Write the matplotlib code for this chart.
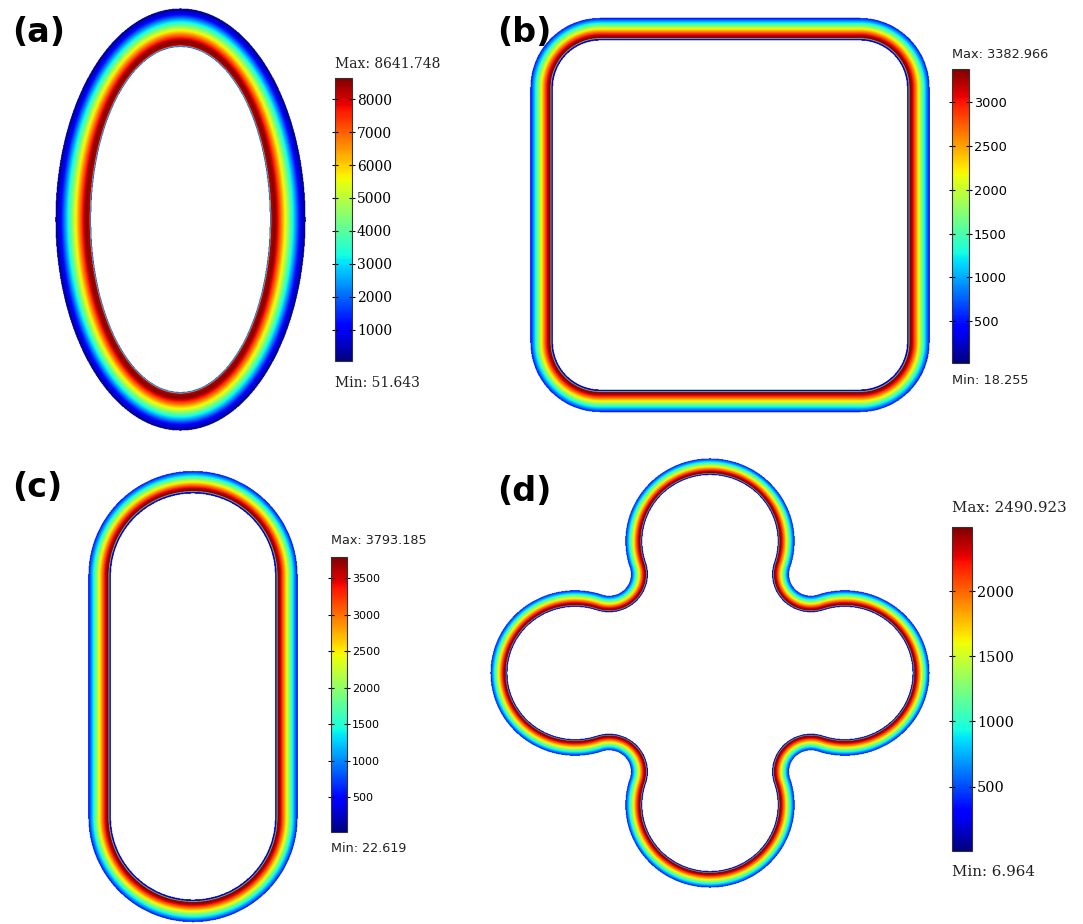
import numpy as np
import matplotlib
matplotlib.use("Agg")
import matplotlib.pyplot as plt
from matplotlib.colors import Normalize
from matplotlib.cm import ScalarMappable

# ---------------- data ----------------
panel_labels = ["(a)", "(b)", "(c)", "(d)"]
vmin_a, vmax_a = 51.643, 8641.748
vmin_b, vmax_b = 18.255, 3382.966
vmin_c, vmax_c = 22.619, 3793.185
vmin_d, vmax_d = 6.964, 2490.923
ticks_a = [1000, 2000, 3000, 4000, 5000, 6000, 7000, 8000]
ticks_b = [500, 1000, 1500, 2000, 2500, 3000]
ticks_c = [500, 1000, 1500, 2000, 2500, 3000, 3500]
ticks_d = [500, 1000, 1500, 2000]
# field profile across the ring wall: position (0 = outer edge, 1 = inner edge)
# and fraction of the colour range
prof_pos_a = [0.0, 0.14, 0.85, 0.955, 0.975, 1.0]
prof_frac_a = [0.0, 0.10, 1.0, 0.95, 0.22, 0.18]
prof_pos_thin = [0.0, 0.80, 0.88, 0.93, 1.0]
prof_frac_thin = [0.12, 0.98, 1.0, 0.02, 0.10]

W, H = 1083, 924
fig = plt.figure(figsize=(W / 100, H / 100), dpi=100)
cmap = plt.get_cmap("jet").copy()
cmap.set_bad((1, 1, 1, 0))
SERIF = ["DejaVu Serif"]
SANS = ["DejaVu Sans"]


def px_axes(x0, y0, x1, y1):
    ax = fig.add_axes([x0 / W, 1 - y1 / H, (x1 - x0) / W, (y1 - y0) / H])
    ax.axis("off")
    return ax


def grid(xlim, ylim, nx, ny):
    xs = np.linspace(xlim[0], xlim[1], nx)
    ys = np.linspace(ylim[0], ylim[1], ny)
    return np.meshgrid(xs, ys)


def draw_field(ax, X, Y, t, pos, frac, vmin, vmax, xlim, ylim):
    f = np.interp(np.clip(t, 0, 1), pos, frac)
    V = np.ma.masked_invalid(np.where(np.isnan(t), np.nan, vmin + f * (vmax - vmin)))
    ax.imshow(V, extent=(xlim[0], xlim[1], ylim[0], ylim[1]), origin="lower",
              cmap=cmap, vmin=vmin, vmax=vmax, interpolation="antialiased",
              aspect="auto")
    ax.set_xlim(*xlim)
    ax.set_ylim(*ylim)


def colorbar(box, vmin, vmax, ticks, fam, tsize, lsize, maxy, miny, maxtxt, mintxt):
    x0, y0, x1, y1 = box
    cax = fig.add_axes([x0 / W, 1 - y1 / H, (x1 - x0) / W, (y1 - y0) / H])
    sm = ScalarMappable(norm=Normalize(vmin, vmax), cmap=cmap)
    cb = fig.colorbar(sm, cax=cax, ticks=ticks)
    cb.outline.set_linewidth(0.8)
    cb.outline.set_edgecolor("#333333")
    cax.tick_params(axis="y", left=True, right=True, direction="inout", length=5,
                    width=0.8, labelsize=tsize, pad=1)
    for lb in cax.get_yticklabels():
        lb.set_fontfamily(fam)
    fig.text(x0 / W, 1 - maxy / H, maxtxt, fontsize=lsize, family=fam,
             va="center", ha="left", color="#222222")
    fig.text(x0 / W, 1 - miny / H, mintxt, fontsize=lsize, family=fam,
             va="center", ha="left", color="#222222")


# ---------------- (a) elliptical ring ----------------
a_out, b_out, a_in, b_in = 125.0, 211.5, 89.0, 172.5
xl, yl = (-130, 130), (-216.5, 216.5)
axa = px_axes(50, 3, 310, 436)
X, Y = grid(xl, yl, 520, 866)
def g(t):
    a = a_out - t * (a_out - a_in)
    b = b_out - t * (b_out - b_in)
    return X ** 2 / a ** 2 + Y ** 2 / b ** 2 - 1
inside = (g(0.0) <= 0) & (g(1.0) >= 0)
lo = np.zeros_like(X)
hi = np.ones_like(X)
for _ in range(30):
    mid = 0.5 * (lo + hi)
    pos = g(mid) >= 0
    hi = np.where(pos, mid, hi)
    lo = np.where(pos, lo, mid)
t = np.where(inside, 0.5 * (lo + hi), np.nan)
draw_field(axa, X, Y, t, prof_pos_a, prof_frac_a, vmin_a, vmax_a, xl, yl)

# ---------------- (b) rounded square ring ----------------
hw, hh, rr, hb = 188.5, 186.0, 58.5, 11.5
xl, yl = (-204, 204), (-202, 202)
axb = px_axes(526, 13.5, 934, 417.5)
X, Y = grid(xl, yl, 816, 808)
qx = np.abs(X) - (hw - rr)
qy = np.abs(Y) - (hh - rr)
d = np.hypot(np.maximum(qx, 0), np.maximum(qy, 0)) + np.minimum(np.maximum(qx, qy), 0) - rr
t = np.where(np.abs(d) <= hb, (hb - d) / (2 * hb), np.nan)
draw_field(axb, X, Y, t, prof_pos_thin, prof_frac_thin, vmin_b, vmax_b, xl, yl)

# ---------------- (c) stadium ring ----------------
Rc, Lc, hc = 93.5, 121.0, 11.5
xl, yl = (-109, 109), (-229.5, 227.5)
axc = px_axes(84, 469, 302, 926)
X, Y = grid(xl, yl, 436, 914)
d = np.hypot(X, np.maximum(np.abs(Y) - Lc, 0)) - Rc
t = np.where(np.abs(d) <= hc, (hc - d) / (2 * hc), np.nan)
draw_field(axc, X, Y, t, prof_pos_thin, prof_frac_thin, vmin_c, vmax_c, xl, yl)

# ---------------- (d) four-lobe ring ----------------
Dl, rl, neck, hd = 132.0, 74.5, 110.0, 8.5
El = (Dl ** 2 - (rl - neck) ** 2) / (2 * (rl - neck) + np.sqrt(2) * Dl)
rc = El - neck
xl, yl = (-218, 218), (-218, 218)
axd = px_axes(487, 455, 933, 891)
X, Y = grid(xl, yl, 872, 872)
alpha0 = np.arctan2(El / np.sqrt(2), El / np.sqrt(2) - Dl)


def arc_sd(cx, cy, r, a0, sweep, sgn):
    dx, dy = X - cx, Y - cy
    rho = np.hypot(dx, dy)
    ang = np.arctan2(dy, dx)
    if sweep > 0:
        inr = np.mod(ang - a0, 2 * np.pi) <= sweep
    else:
        inr = np.mod(a0 - ang, 2 * np.pi) <= -sweep
    return np.where(inr, sgn * (rho - r), np.inf)


best = np.full(X.shape, np.inf)
for k in range(4):
    phi = k * np.pi / 2
    sd = arc_sd(Dl * np.cos(phi), Dl * np.sin(phi), rl, phi - alpha0, 2 * alpha0, 1)
    best = np.where(np.abs(sd) < np.abs(best), sd, best)
    psi = phi + np.pi / 4
    sd = arc_sd(El * np.cos(psi), El * np.sin(psi), rc, phi + alpha0 + np.pi,
                np.pi / 2 - 2 * alpha0, -1)
    best = np.where(np.abs(sd) < np.abs(best), sd, best)
t = np.where(np.abs(best) <= hd, (hd - best) / (2 * hd), np.nan)
draw_field(axd, X, Y, t, prof_pos_thin, prof_frac_thin, vmin_d, vmax_d, xl, yl)

# ---------------- colour bars ----------------
colorbar((335, 78, 352, 361), vmin_a, vmax_a, ticks_a, SERIF, 10, 10, 64, 383,
         "Max: 8641.748", "Min: 51.643")
colorbar((952, 69, 969, 363), vmin_b, vmax_b, ticks_b, SANS, 9.3, 9.3, 54, 381,
         "Max: 3382.966", "Min: 18.255")
colorbar((331, 557, 347, 832), vmin_c, vmax_c, ticks_c, SANS, 8, 9.2, 541, 848,
         "Max: 3793.185", "Min: 22.619")
colorbar((952, 527, 972, 851), vmin_d, vmax_d, ticks_d, SERIF, 10.4, 10.8, 508, 872,
         "Max: 2490.923", "Min: 6.964")

# ---------------- panel labels ----------------
for lab, (x, y) in zip(panel_labels, [(12, 32), (497, 32), (12, 487), (497, 492)]):
    fig.text(x / W, 1 - y / H, lab, fontsize=24, fontweight="bold",
             family=["DejaVu Sans"], va="center", ha="left")

fig.savefig("out.png", dpi=100)
